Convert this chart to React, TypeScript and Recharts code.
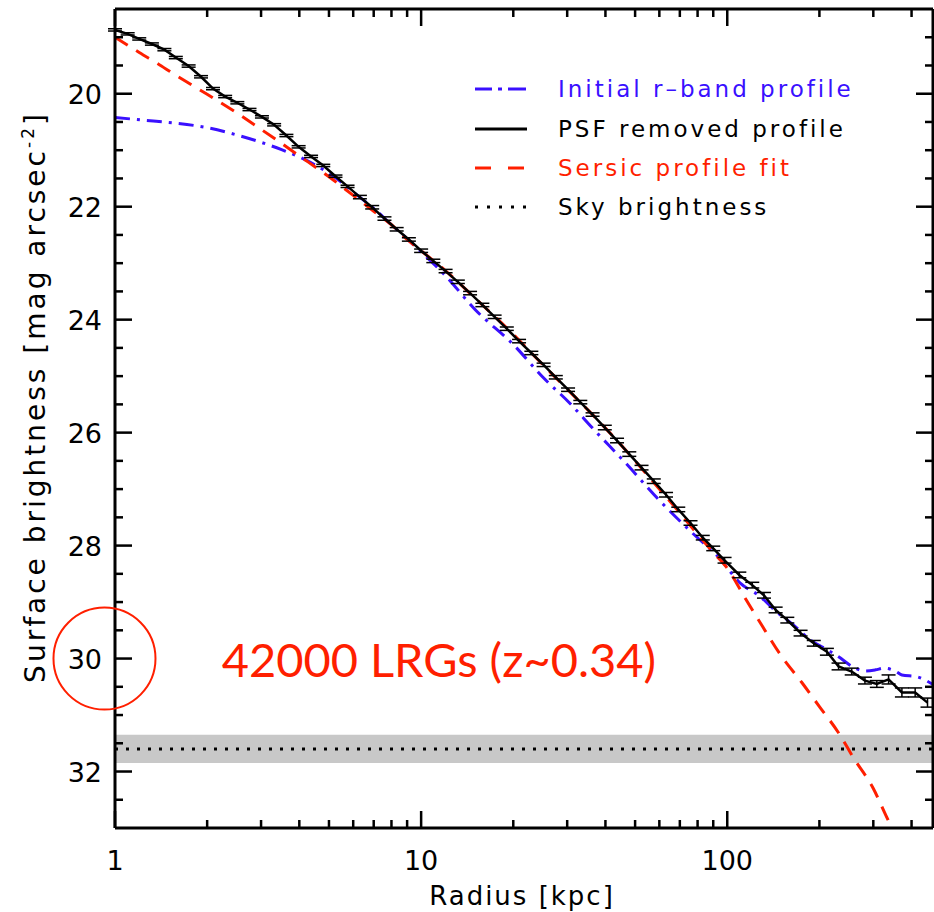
import React from 'react';
import { LineChart, Line, XAxis, YAxis, ReferenceArea, ReferenceLine, ReferenceDot, ErrorBar } from 'recharts';

// ---------- data ----------
const psfRadius = [1.00, 1.10, 1.20, 1.32, 1.45, 1.58, 1.74, 1.91, 2.09, 2.29, 2.51, 2.75, 3.02, 3.31, 3.63, 3.98, 4.37, 4.79, 5.25, 5.75, 6.31, 6.92, 7.59, 8.32, 9.12, 10.0, 10.96, 12.02, 13.18, 14.45, 15.85, 17.38, 19.05, 20.89, 22.91, 25.12, 27.54, 30.2, 33.11, 36.31, 39.81, 43.65, 47.86, 52.48, 57.54, 63.1, 69.18, 75.86, 83.18, 90.0, 98, 109.5, 120.7, 131.8, 143.9, 157.1, 173.6, 191.7, 211.6, 231, 255, 281.7, 308, 336.5, 372, 411, 451];
const psfMu = [18.87, 18.94, 19.03, 19.12, 19.22, 19.36, 19.51, 19.70, 19.91, 20.05, 20.16, 20.28, 20.41, 20.55, 20.74, 20.94, 21.11, 21.27, 21.46, 21.64, 21.83, 22.01, 22.21, 22.40, 22.58, 22.78, 22.96, 23.14, 23.33, 23.53, 23.74, 23.95, 24.16, 24.38, 24.59, 24.80, 25.02, 25.24, 25.46, 25.68, 25.91, 26.14, 26.38, 26.62, 26.86, 27.10, 27.36, 27.60, 27.86, 28.05, 28.26, 28.52, 28.70, 28.88, 29.14, 29.32, 29.55, 29.73, 29.88, 30.14, 30.23, 30.39, 30.45, 30.37, 30.60, 30.60, 30.78];
const psfErr = [0.02, 0.02, 0.02, 0.02, 0.02, 0.02, 0.02, 0.02, 0.02, 0.02, 0.02, 0.02, 0.02, 0.02, 0.02, 0.02, 0.02, 0.02, 0.02, 0.02, 0.03, 0.03, 0.03, 0.03, 0.03, 0.03, 0.03, 0.03, 0.03, 0.03, 0.03, 0.03, 0.03, 0.03, 0.03, 0.03, 0.03, 0.03, 0.03, 0.03, 0.04, 0.04, 0.04, 0.04, 0.04, 0.04, 0.04, 0.04, 0.04, 0.04, 0.05, 0.05, 0.05, 0.05, 0.05, 0.05, 0.05, 0.05, 0.06, 0.06, 0.06, 0.06, 0.06, 0.08, 0.08, 0.08, 0.08];

const sersicRadius = [1.0, 1.2, 1.4, 1.6, 1.8, 2.0, 2.5, 3.0, 3.5, 4.0, 5.0, 6.0, 7.0, 8.0, 9.0, 10, 12, 15, 20, 25, 30, 40, 50, 60, 70, 80, 90, 100, 115, 130, 150, 175, 200, 230, 260, 300, 330, 370];
const sersicMu = [19.00, 19.27, 19.49, 19.69, 19.86, 20.01, 20.34, 20.63, 20.88, 21.10, 21.47, 21.80, 22.08, 22.32, 22.58, 22.78, 23.13, 23.62, 24.26, 24.80, 25.23, 25.92, 26.50, 27.00, 27.42, 27.80, 28.12, 28.40, 28.95, 29.42, 29.95, 30.42, 30.85, 31.30, 31.78, 32.30, 32.78, 33.35];

const initialRadius = [1.0, 1.25, 1.5, 2.0, 2.5, 3.0, 3.5, 4.0, 4.5, 5.0, 5.5, 6.0, 7.0, 8.0, 9.0, 10, 12, 15, 20, 25, 30.6, 36.3, 46.6, 59.8, 77, 94.2, 110, 128, 144, 164, 190, 210, 231, 256, 282, 305, 325, 356, 372, 415, 470];
const initialMu = [20.42, 20.47, 20.51, 20.60, 20.73, 20.86, 20.99, 21.12, 21.26, 21.41, 21.57, 21.74, 22.03, 22.32, 22.57, 22.80, 23.22, 23.82, 24.44, 25.02, 25.48, 25.92, 26.54, 27.19, 27.78, 28.22, 28.66, 28.90, 29.16, 29.40, 29.70, 29.83, 29.97, 30.14, 30.22, 30.20, 30.17, 30.23, 30.29, 30.32, 30.46];

const skyLevel = 31.6;
const skyLow = 31.35;
const skyHigh = 31.85;

const xTicks = [1, 2, 3, 4, 5, 6, 7, 8, 9, 10, 20, 30, 40, 50, 60, 70, 80, 90, 100, 200, 300, 400];
const xMajor = [1, 10, 100];
const yTicks = [19, 19.5, 20, 20.5, 21, 21.5, 22, 22.5, 23, 23.5, 24, 24.5, 25, 25.5, 26, 26.5, 27, 27.5, 28, 28.5, 29, 29.5, 30, 30.5, 31, 31.5, 32, 32.5];
const yMajor = [20, 22, 24, 26, 28, 30, 32];

const annotationText = '42000 LRGs (z~0.34)';
const annotationAt = { r: 2.23, mu: 30.0 };
const circleAt = { r: 0.924, mu: 30.0 };

const legendLabels = ['Initial r\u2013band profile', 'PSF removed profile', 'Sersic profile fit', 'Sky brightness'];

// ---------- styles ----------
const FONT = "'DejaVu Sans', sans-serif";
const RED = '#ff1f00';
const BLUE = '#3a10ff';

const psfData = psfRadius.map((r, i) => ({ r, mu: psfMu[i], err: psfErr[i] }));
const sersicData = sersicRadius.map((r, i) => ({ r, mu: sersicMu[i] }));
const initialData = initialRadius.map((r, i) => ({ r, mu: initialMu[i] }));

const MAJ = 17;
const MIN = 8;
const TW = 2.5;

const BottomTick = (p: any) => {
  const major = xMajor.includes(p.payload.value);
  return (
    <g>
      <line x1={p.x} x2={p.x} y1={p.y} y2={p.y - (major ? MAJ : MIN)} stroke="#000" strokeWidth={TW} />
      {major && (
        <text x={p.x} y={p.y + 42} textAnchor="middle" fontFamily={FONT} fontSize={27} fill="#000">
          {p.payload.value}
        </text>
      )}
    </g>
  );
};
const TopTick = (p: any) => {
  const major = xMajor.includes(p.payload.value);
  return <line x1={p.x} x2={p.x} y1={p.y} y2={p.y + (major ? MAJ : MIN)} stroke="#000" strokeWidth={TW} />;
};
const LeftTick = (p: any) => {
  const major = yMajor.includes(p.payload.value);
  return (
    <g>
      <line x1={p.x} x2={p.x + (major ? MAJ : MIN)} y1={p.y} y2={p.y} stroke="#000" strokeWidth={TW} />
      {major && (
        <text x={p.x - 13} y={p.y + 10} textAnchor="end" fontFamily={FONT} fontSize={27} fill="#000">
          {p.payload.value}
        </text>
      )}
    </g>
  );
};
const RightTick = (p: any) => {
  const major = yMajor.includes(p.payload.value);
  return <line x1={p.x} x2={p.x - (major ? MAJ : MIN)} y1={p.y} y2={p.y} stroke="#000" strokeWidth={TW} />;
};

const AnnotationShape = (p: any) => (
  <text x={p.cx} y={p.cy} dominantBaseline="central" textAnchor="start" fontFamily="Lato, sans-serif" fontSize={47} fill={RED}>
    {annotationText}
  </text>
);

const legendSamples = [
  <svg width={60} height={20} key="a">
    <line x1={0} x2={17} y1={10} y2={10} stroke={BLUE} strokeWidth={3} />
    <line x1={23} x2={27} y1={10} y2={10} stroke={BLUE} strokeWidth={3} />
    <line x1={33} x2={51} y1={10} y2={10} stroke={BLUE} strokeWidth={3} />
  </svg>,
  <svg width={60} height={20} key="b">
    <line x1={0} x2={52} y1={10} y2={10} stroke="#000" strokeWidth={3} />
  </svg>,
  <svg width={60} height={20} key="c">
    <line x1={0} x2={16} y1={10} y2={10} stroke={RED} strokeWidth={3} />
    <line x1={33} x2={49} y1={10} y2={10} stroke={RED} strokeWidth={3} />
  </svg>,
  <svg width={60} height={20} key="d">
    <line x1={0} x2={52} y1={10} y2={10} stroke="#000" strokeWidth={3} strokeDasharray="3 9" />
  </svg>,
];
const legendColors = [BLUE, '#000', RED, '#000'];
const legendRows = [89, 129, 168, 207];

const axisLineStyle = { stroke: '#000', strokeWidth: 3 };

export default function App() {
  return (
    <div style={{ position: 'absolute', left: 0, top: 0, width: 934, height: 912, background: '#fff', fontFamily: FONT }}>
      <LineChart width={934} height={912} margin={{ top: 8, right: 0, bottom: 83, left: 114 }}>
        <XAxis xAxisId="b" dataKey="r" type="number" scale="log" domain={[1, 470]} allowDataOverflow ticks={xTicks} interval={0}
          orientation="bottom" height={1} tickSize={0} tickMargin={0} tickLine={false}
          axisLine={axisLineStyle} tick={(p: any) => <BottomTick {...p} />} />
        <XAxis xAxisId="t" dataKey="r" type="number" scale="log" domain={[1, 470]} allowDataOverflow ticks={xTicks} interval={0}
          orientation="top" height={1} tickSize={0} tickMargin={0} tickLine={false}
          axisLine={axisLineStyle} tick={(p: any) => <TopTick {...p} />} />
        <YAxis yAxisId="l" type="number" domain={[18.5, 33]} reversed allowDataOverflow ticks={yTicks} interval={0}
          orientation="left" width={1} tickSize={0} tickMargin={0} tickLine={false}
          axisLine={axisLineStyle} tick={(p: any) => <LeftTick {...p} />} />
        <YAxis yAxisId="r" type="number" domain={[18.5, 33]} reversed allowDataOverflow ticks={yTicks} interval={0}
          orientation="right" width={1} tickSize={0} tickMargin={0} tickLine={false}
          axisLine={axisLineStyle} tick={(p: any) => <RightTick {...p} />} />

        <ReferenceArea xAxisId="b" yAxisId="l" y1={skyLow} y2={skyHigh} fill="#c8c8c8" fillOpacity={1} stroke="none" />
        <ReferenceLine xAxisId="b" yAxisId="l" y={skyLevel} stroke="#000" strokeWidth={3} strokeDasharray="3 8" />

        <Line xAxisId="b" yAxisId="l" data={initialData} dataKey="mu" type="monotone" stroke={BLUE} strokeWidth={3}
          strokeDasharray="15 7 3 7" dot={false} isAnimationActive={false} />
        <Line xAxisId="b" yAxisId="l" data={sersicData} dataKey="mu" type="monotone" stroke={RED} strokeWidth={3}
          strokeDasharray="15 10" dot={false} isAnimationActive={false} />
        <Line xAxisId="b" yAxisId="l" data={psfData} dataKey="mu" type="linear" stroke="#000" strokeWidth={2.5}
          dot={false} isAnimationActive={false}>
          <ErrorBar dataKey="err" width={7} strokeWidth={1.5} stroke="#000" direction="y" />
        </Line>

        <ReferenceDot xAxisId="b" yAxisId="l" x={circleAt.r} y={circleAt.mu} r={51} fill="none" stroke={RED} strokeWidth={2} ifOverflow="visible" />
        <ReferenceDot xAxisId="b" yAxisId="l" x={annotationAt.r} y={annotationAt.mu} r={0} ifOverflow="visible" shape={(p: any) => <AnnotationShape {...p} />} />
      </LineChart>

      {legendLabels.map((label, i) => (
        <div key={label} style={{ position: 'absolute', left: 475, top: legendRows[i] - 15, height: 30, display: 'flex', alignItems: 'center', whiteSpace: 'nowrap' }}>
          <div style={{ width: 83, height: 20 }}>{legendSamples[i]}</div>
          <span style={{ fontSize: 23, letterSpacing: 3, color: legendColors[i] }}>{label}</span>
        </div>
      ))}

      <div style={{ position: 'absolute', left: 522, top: 896, transform: 'translate(-50%, -50%)', fontSize: 26, letterSpacing: 2, whiteSpace: 'nowrap', color: '#000' }}>
        Radius [kpc]
      </div>
      <div style={{ position: 'absolute', left: 35, top: 397, transform: 'translate(-50%, -50%) rotate(-90deg)', fontSize: 28, letterSpacing: 3, whiteSpace: 'nowrap', color: '#000' }}>
        Surface brightness [mag arcsec<sup style={{ fontSize: 17 }}>-2</sup>]
      </div>
    </div>
  );
}
